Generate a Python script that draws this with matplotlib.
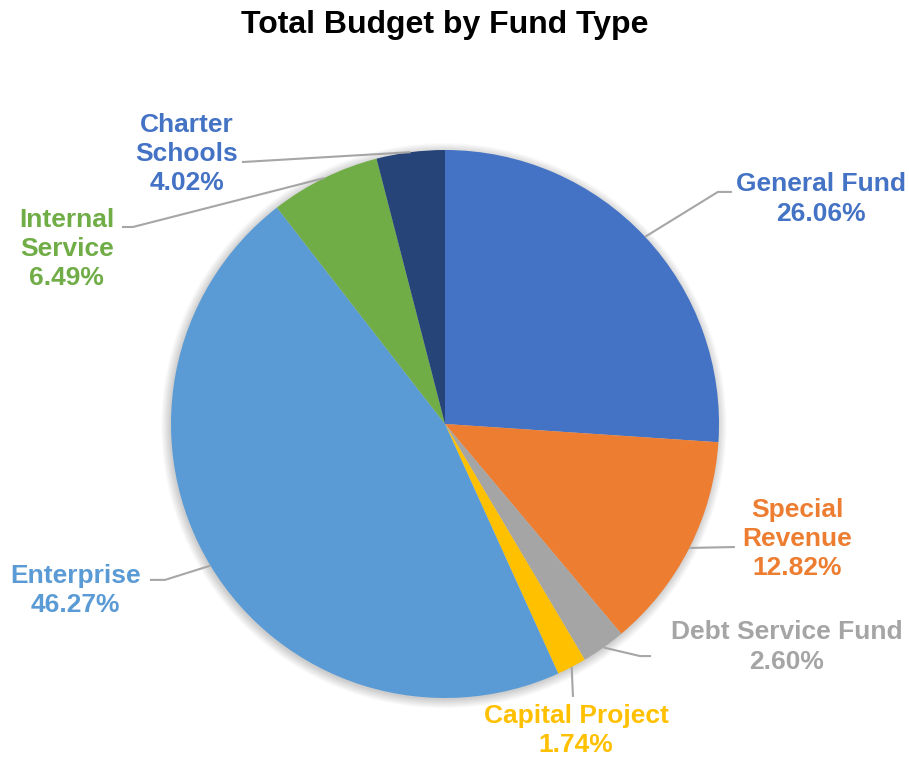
import numpy as np
import matplotlib.pyplot as plt
from matplotlib.patches import Circle

plt.rcParams['font.family'] = ['Liberation Sans', 'DejaVu Sans']

funds = ["General Fund", "Special\nRevenue", "Debt Service Fund", "Capital Project",
         "Enterprise", "Internal\nService", "Charter\nSchools"]
shares = [26.06, 12.82, 2.60, 1.74, 46.27, 6.49, 4.02]
colors = ["#4472C4", "#ED7D31", "#A5A5A5", "#FFC000", "#5B9BD5", "#70AD47", "#264478"]
label_colors = ["#4472C4", "#ED7D31", "#A5A5A5", "#FFC000", "#5B9BD5", "#70AD47", "#4472C4"]

# label text centre, then leader-line bend points (after the wedge edge point)
label_pos = [(1.372, 0.821), (1.285, -0.420), (1.248, -0.814), (0.478, -1.120),
             (-1.350, -0.609), (-1.380, 0.639), (-0.942, 0.985)]
leader_pts = [[(0.996, 0.847), (1.047, 0.847)],
              [(1.058, -0.449)],
              [(0.712, -0.847), (0.752, -0.847)],
              [(0.467, -0.996)],
              [(-1.022, -0.569), (-1.077, -0.569)],
              [(-1.139, 0.719), (-1.179, 0.719)],
              [(-0.741, 0.956)]]

fig = plt.figure(figsize=(9.09, 7.57), dpi=100)
ax = fig.add_axes([0, 0, 1, 1])

# soft shadow round the pie
for i in range(10):
    ax.add_patch(Circle((-0.004, -0.006), 1.0 + 0.0035 * i, color="black",
                        alpha=0.018, lw=0, zorder=0))

wedges, _ = ax.pie(shares, colors=colors, startangle=90, counterclock=False,
                   radius=1.0, wedgeprops=dict(linewidth=0))
for w in wedges:
    w.set_zorder(2)

for w, name, val, pos, pts, c in zip(wedges, funds, shares, label_pos, leader_pts, label_colors):
    mid = np.deg2rad((w.theta1 + w.theta2) / 2)
    xs = [np.cos(mid)] + [p[0] for p in pts]
    ys = [np.sin(mid)] + [p[1] for p in pts]
    ax.plot(xs, ys, color="#A6A6A6", lw=1.5, zorder=3, solid_capstyle="butt")
    ax.text(pos[0], pos[1], f"{name}\n{val:.2f}%", ha="center", va="center",
            multialignment="center", color=c, fontsize=19, fontweight="bold",
            linespacing=1.27, zorder=4)

ax.set_xlim(-445 / 274, (909 - 445) / 274)
ax.set_ylim(-(757 - 424) / 274, 424 / 274)
ax.set_aspect("equal")
ax.axis("off")

fig.text(0.489, 0.967, "Total Budget by Fund Type", ha="center", va="center",
         fontsize=23, fontweight="bold", color="black")

fig.savefig("out.png", dpi=100, facecolor="white")
